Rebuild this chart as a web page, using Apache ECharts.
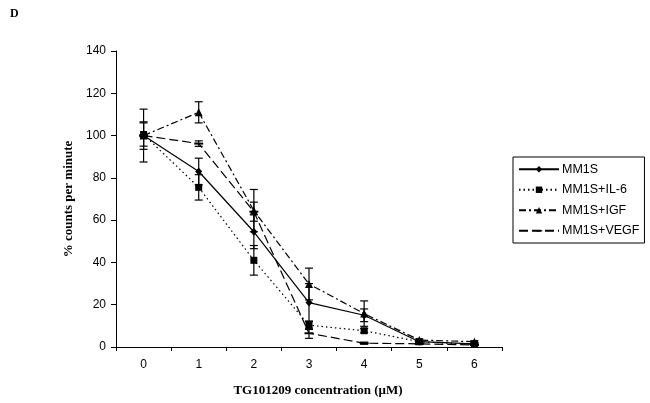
<!DOCTYPE html>
<html><head><meta charset="utf-8">
<script src="https://cdn.jsdelivr.net/npm/echarts@6/dist/echarts.min.js"></script>
<style>html,body{margin:0;padding:0;background:#fff}#c{width:650px;height:403px}</style>
</head><body><div id="c"></div>
<script>
const categories = ['0','1','2','3','4','5','6'];
const seriesNames = ['MM1S','MM1S+IL-6','MM1S+IGF','MM1S+VEGF'];
const mm1s = [100, 83, 54.5, 21, 15, 2.5, 1.5];
const mm1sErr = [12.5, 6.3, 8, 9, 3, 0.5, 0.5];
const il6 = [100.5, 75.5, 41, 10.3, 7.7, 2.5, 1.2];
const il6Err = [5.5, 6, 7, 2, 1, 0.5, 0.3];
const igf = [100, 111, 64.5, 29.8, 15.8, 3.3, 2.5];
const igfErr = [6.5, 5, 10, 7.5, 6, 0.5, 0.5];
const vegf = [100, 96.2, 64, 6.5, 1.8, 1.5, 1];
const vegfErr = [0.5, 1.3, 4.5, 2.4, 0.5, 0.3, 0.3];
const yTicks = {min: 0, max: 140, interval: 20};

const chart = echarts.init(document.getElementById('c'), null, {renderer: 'canvas'});
const vals = [mm1s, il6, igf, vegf];
const errs = [mm1sErr, il6Err, igfErr, vegfErr];
const dashPath = 'path://M0,-4M0,0L10,0L10,2.2L0,2.2ZM10,6.2';
const symbols = ['diamond', 'rect', 'triangle', dashPath];
const symSizes = [[7,8], [7,7], [8,8], [9,9]];
const lineTypes = ['solid', [1.5,3], [7,3,2,3], [9,4]];

function errSeries(k) {
  return {
    type: 'custom', silent: true, z: 1,
    data: vals[k].map((v,i) => [i, v - errs[k][i], v + errs[k][i]]),
    renderItem: function(params, api) {
      const x = api.value(0);
      const lo = api.coord([x, api.value(1)]);
      const hi = api.coord([x, api.value(2)]);
      const w = 4;
      return {type: 'group', children: [
        {type: 'line', shape: {x1: lo[0], y1: lo[1], x2: hi[0], y2: hi[1]}, style: {stroke: '#000', lineWidth: 1.2}},
        {type: 'line', shape: {x1: lo[0]-w, y1: lo[1], x2: lo[0]+w, y2: lo[1]}, style: {stroke: '#000', lineWidth: 1.2}},
        {type: 'line', shape: {x1: hi[0]-w, y1: hi[1], x2: hi[0]+w, y2: hi[1]}, style: {stroke: '#000', lineWidth: 1.2}}
      ]};
    }
  };
}

const series = [];
for (let k = 0; k < 4; k++) {
  series.push({
    name: seriesNames[k], type: 'line', data: vals[k],
    symbol: symbols[k], symbolSize: symSizes[k], showSymbol: true,
    itemStyle: {color: '#000'},
    lineStyle: {color: '#000', width: 1.2, type: lineTypes[k]},
    z: 3, animation: false
  });
}
for (let k = 0; k < 4; k++) series.push(errSeries(k));

chart.setOption({
  animation: false,
  backgroundColor: '#fff',
  grid: {left: 116, right: 148, top: 51, bottom: 56, containLabel: false},
  xAxis: {
    type: 'category', data: categories, boundaryGap: true,
    axisLine: {lineStyle: {color: '#000', width: 1}},
    axisTick: {show: true, inside: false, length: 4, alignWithLabel: false, lineStyle: {color: '#000'}},
    axisLabel: {color: '#000', fontFamily: 'Liberation Sans', fontSize: 12, margin: 12},
    name: 'TG101209 concentration (\u03bcM)', nameLocation: 'middle', nameGap: 37,
    nameTextStyle: {color: '#000', fontFamily: 'Liberation Serif', fontWeight: 'bold', fontSize: 13, padding: [0,0,0,18]}
  },
  yAxis: {
    type: 'value', min: yTicks.min, max: yTicks.max, interval: yTicks.interval,
    splitLine: {show: false},
    axisLine: {show: true, lineStyle: {color: '#000', width: 1}},
    axisTick: {show: true, length: 5, lineStyle: {color: '#000'}},
    axisLabel: {color: '#000', fontFamily: 'Liberation Sans', fontSize: 12, margin: 10},
    name: '% counts per minute', nameLocation: 'middle', nameGap: 39,
    nameTextStyle: {color: '#000', fontFamily: 'Liberation Serif', fontWeight: 'bold', fontSize: 13}
  },
  legend: {
    orient: 'vertical', left: 513, top: 157,
    data: seriesNames,
    borderColor: '#000', borderWidth: 1, borderRadius: 0,
    padding: [5, 5, 5, 5], itemGap: 6, itemWidth: 40, itemHeight: 8,
    textStyle: {color: '#000', fontFamily: 'Liberation Sans', fontSize: 12.5, lineHeight: 14.5, padding: [0,0,0,-2]}
  },
  graphic: [{type: 'text', left: 10, top: 8, style: {text: 'D', fill: '#000', font: 'bold 12px "Liberation Serif"'}}],
  series: series
});
</script></body></html>
